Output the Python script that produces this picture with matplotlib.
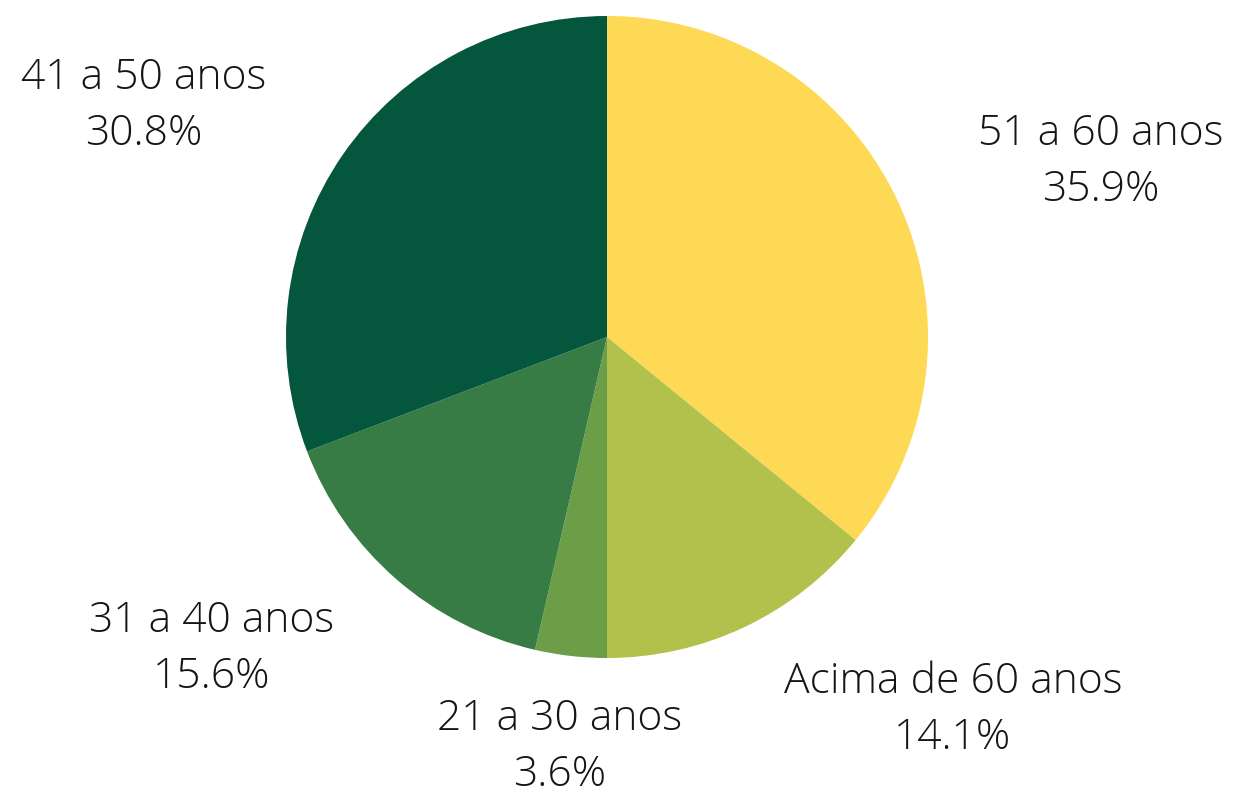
import matplotlib.pyplot as plt
from matplotlib import font_manager

# data
labels = ['51 a 60 anos', 'Acima de 60 anos', '21 a 30 anos', '31 a 40 anos', '41 a 50 anos']
values = [35.9, 14.1, 3.6, 15.6, 30.8]
colors = ['#FDD955', '#B2C14C', '#6B9E47', '#377C45', '#04563D']

# label centres in pixels (x, y from top), layout only
label_px = [(1101, 162), (953, 710), (560, 747), (212, 649), (144, 106)]

W, H = 1233, 794
cx, cy, R = 607, 337, 321

fam = 'Open Sans'
try:
    font_manager.findfont(font_manager.FontProperties(family=fam, weight='light'), fallback_to_default=False)
except Exception:
    fam = 'DejaVu Sans'

fig = plt.figure(figsize=(W / 100, H / 100), dpi=100)
ax = fig.add_axes([0, 0, 1, 1])
ax.pie(values, colors=colors, startangle=90, counterclock=False,
       radius=1, center=(0, 0), wedgeprops=dict(linewidth=0))
ax.set_xlim(-cx / R, (W - cx) / R)
ax.set_ylim(-(H - cy) / R, cy / R)
ax.set_aspect('equal')
ax.axis('off')

for lab, v, (px, py) in zip(labels, values, label_px):
    x = (px - cx) / R
    y = (cy - py) / R
    ax.text(x, y, f'{lab}\n{v:.1f}%', ha='center', va='center',
            fontsize=30.7, family=fam, fontweight='light', color='#151515',
            linespacing=1.42, multialignment='center')

plt.savefig('out.png', dpi=100)
